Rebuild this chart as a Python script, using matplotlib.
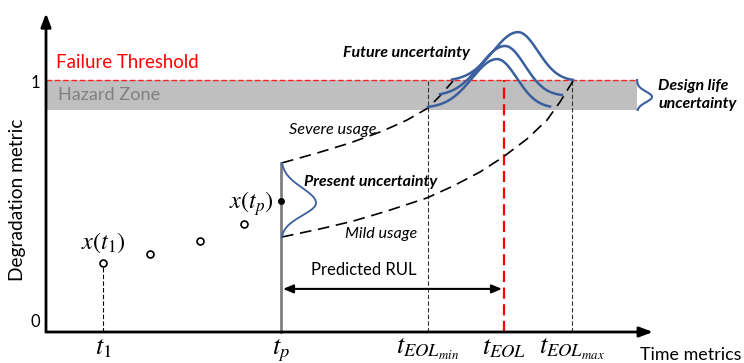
import numpy as np
import matplotlib
matplotlib.use("Agg")
import matplotlib.pyplot as plt

plt.rcParams['font.family'] = ['Lato', 'DejaVu Sans']
plt.rcParams['mathtext.fontset'] = 'stix'

# ---- data (time in arbitrary units, degradation metric 0..1) ----
obs_t = [0.57, 1.04, 1.54, 1.98]
obs_y = [0.274, 0.310, 0.361, 0.429]
tp_t, tp_y = 2.35, 0.520

t_eol_min, t_eol, t_eol_max = 3.82, 4.58, 5.26
threshold = 1.0
hazard_low = 0.881
band_end = 5.91

severe_t = [2.36, 2.71, 3.04, 3.37, 3.61, 3.82, 3.94, 4.07]
severe_y = [0.671, 0.710, 0.750, 0.798, 0.841, 0.889, 0.937, 0.996]
mild_t = [2.36, 2.74, 3.07, 3.41, 3.81, 4.07, 4.34, 4.57, 4.81, 5.01, 5.14, 5.27]
mild_y = [0.377, 0.409, 0.440, 0.480, 0.532, 0.579, 0.635, 0.694, 0.766, 0.841, 0.913, 0.996]

# present uncertainty pdf (along vertical at tp): mode, height, sigma up/down
present_mode, present_height, present_sig_up, present_sig_dn = 0.512, 0.35, 0.06, 0.05
# future uncertainty pdfs: baseline level, left foot, right foot, mode, height, sigma left/right
fut_base = [0.996, 0.937, 0.889]
fut_left = [4.06, 3.94, 3.82]
fut_right = [5.27, 5.16, 5.04]
fut_mode = [4.72, 4.59, 4.51]
fut_height = [0.194, 0.198, 0.194]
fut_sig_l = [0.25, 0.25, 0.25]
fut_sig_r = [0.20, 0.20, 0.20]
# design-life pdf
design_mode, design_height, design_sig = 0.933, 0.15, 0.021

rul_y = 0.171

tick_pos = [0.57, 2.35, 3.82, 4.58, 5.26]
tick_lab = [r'$t_1$', r'$t_p$', r'$t_{EOL_{min}}$', r'$t_{EOL}$', r'$t_{EOL_{max}}$']

blue = '#3a5f9e'

fig = plt.figure(figsize=(7.44, 3.63), dpi=100)
ax = fig.add_axes([0, 0, 1, 1])
ax.set_xlim(-0.46, 6.98)
ax.set_ylim(-31 / 252, 332 / 252)
ax.axis('off')

# hazard band & threshold
ax.fill_between([0, band_end], hazard_low, threshold, color='#bfbfbf', lw=0, zorder=1)
ax.plot([0, band_end], [threshold, threshold], color='#ff2020', lw=1, ls=(0, (4, 2)), zorder=2)

# axes with arrows
ax.annotate('', xy=(0, 1.265), xytext=(0, 0),
            arrowprops=dict(arrowstyle='-|>,head_length=0.8,head_width=0.3', color='black', lw=2, shrinkA=0, shrinkB=0), zorder=5)
ax.annotate('', xy=(6.07, 0), xytext=(0, 0),
            arrowprops=dict(arrowstyle='-|>,head_length=0.8,head_width=0.3', color='black', lw=2, shrinkA=0, shrinkB=0), zorder=5)

ax.text(-0.06, 0.04, '0', ha='right', va='center', fontsize=12)
ax.text(-0.06, 0.99, '1', ha='right', va='center', fontsize=12)
ax.text(-0.29, 0.524, 'Degradation metric', rotation=90, ha='center', va='center', fontsize=13.8)

ax.text(0.10, 1.071, 'Failure Threshold', color='#ff0000', ha='left', va='center', fontsize=13.4)
ax.text(0.12, 0.94, 'Hazard Zone', color='#808080', ha='left', va='center', fontsize=13.1)

# observations
ax.plot(obs_t, obs_y, 'o', mfc='white', mec='black', ms=5, mew=1.2, zorder=6)
ax.plot([obs_t[0], obs_t[0]], [0, obs_y[0]], color='black', lw=0.8, ls=(0, (4, 2)), zorder=3)
ax.plot([tp_t, tp_t], [0, severe_y[0]], color='#808080', lw=2, zorder=3)
ax.plot([tp_t], [tp_y], 'o', color='black', ms=4, zorder=6)

ax.text(0.57, 0.353, r'$x(t_1)$', ha='center', va='center', fontsize=17.5)
ax.text(2.05, 0.508, r'$x(t_p)$', ha='center', va='center', fontsize=17.5)

# trajectories
ax.plot(severe_t, severe_y, color='black', lw=1.2, ls=(0, (7, 4)), zorder=4)
ax.plot(mild_t, mild_y, color='black', lw=1.2, ls=(0, (7, 4)), zorder=4)

# present uncertainty pdf
yy = np.linspace(mild_y[0], severe_y[0], 200)
sig = np.where(yy > present_mode, present_sig_up, present_sig_dn)
ax.plot(tp_t + present_height * np.exp(-0.5 * ((yy - present_mode) / sig) ** 2), yy, color=blue, lw=1.3, zorder=5)

# future uncertainty pdfs
for b, l, r, m, h, sl, sr in zip(fut_base, fut_left, fut_right, fut_mode, fut_height, fut_sig_l, fut_sig_r):
    xx = np.linspace(l, r, 300)
    s = np.where(xx < m, sl, sr)
    ax.plot(xx, b + h * np.exp(-0.5 * ((xx - m) / s) ** 2), color=blue, lw=1.8, zorder=5)

# design life pdf
yy = np.linspace(hazard_low, threshold, 100)
ax.plot(band_end + design_height * np.exp(-0.5 * ((yy - design_mode) / design_sig) ** 2), yy, color=blue, lw=1.5, zorder=5)

# EOL verticals
ax.plot([t_eol_min, t_eol_min], [0, threshold], color='#333333', lw=0.8, ls=(0, (4, 2)), zorder=3)
ax.plot([t_eol_max, t_eol_max], [0, threshold], color='#333333', lw=0.8, ls=(0, (4, 2)), zorder=3)
ax.plot([t_eol, t_eol], [0, threshold], color='#ff0000', lw=1.6, ls=(0, (5, 2.5)), zorder=3)

# RUL arrow
ax.annotate('', xy=(t_eol - 0.02, rul_y), xytext=(tp_t + 0.02, rul_y),
            arrowprops=dict(arrowstyle='<|-|>,head_length=0.6,head_width=0.25', color='black', lw=1.5, shrinkA=0, shrinkB=0))
ax.text(3.18, 0.246, 'Predicted RUL', ha='center', va='center', fontsize=12)

# annotations
ax.text(2.87, 0.802, 'Severe usage', ha='center', va='center', fontsize=11.7, style='italic')
ax.text(3.35, 0.389, 'Mild usage', ha='center', va='center', fontsize=11.6, style='italic')
ax.text(3.25, 0.595, 'Present uncertainty', ha='center', va='center', fontsize=11.5, style='italic', weight='bold')
ax.text(3.60, 1.107, 'Future uncertainty', ha='center', va='center', fontsize=11.5, style='italic', weight='bold')
ax.text(6.12, 0.940, 'Design life\nuncertainty', ha='left', va='center', fontsize=11.5, style='italic', weight='bold', linespacing=1.3)

for p, lab in zip(tick_pos, tick_lab):
    ax.text(p, -0.087, lab, ha='center', va='baseline', fontsize=19)
ax.text(5.94, -0.091, 'Time metrics', ha='left', va='center', fontsize=12.9)

fig.savefig('out.png', dpi=100)
